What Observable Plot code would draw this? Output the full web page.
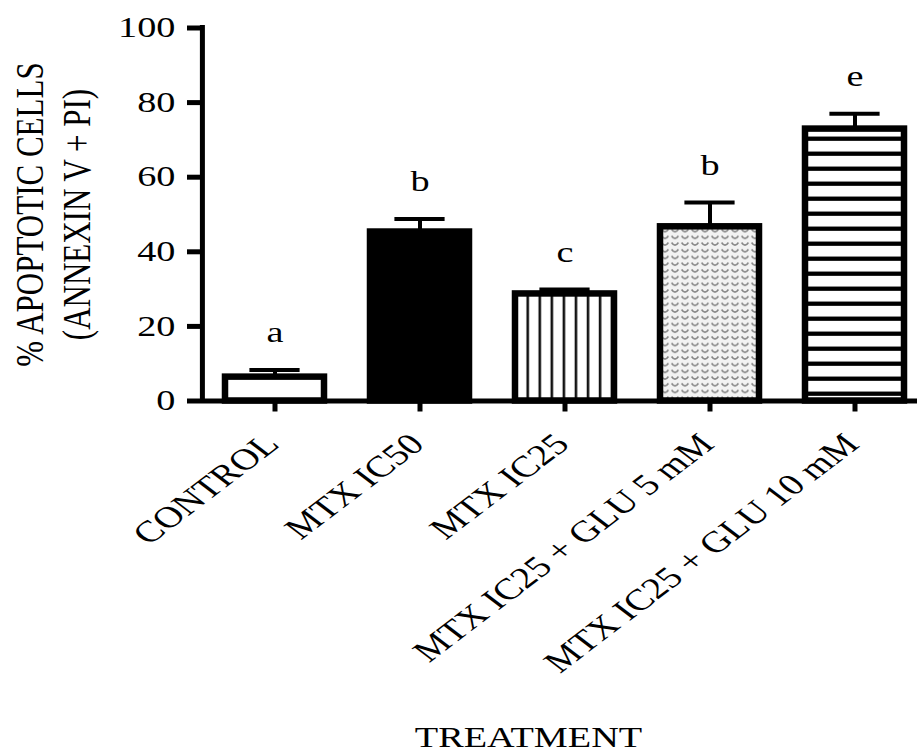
<!DOCTYPE html>
<html>
<head>
<meta charset="utf-8">
<script src="https://cdn.jsdelivr.net/npm/d3@7"></script>
<script src="https://cdn.jsdelivr.net/npm/@observablehq/plot@0.6"></script>
<style>
  html, body { margin: 0; padding: 0; background: #fff; overflow: hidden; }
  #chart svg { display: block; }
</style>
</head>
<body>
<div id="chart"></div>
<script>
// ---- data ----
const treatments = ["CONTROL", "MTX IC50", "MTX IC25", "MTX IC25 + GLU 5 mM", "MTX IC25 + GLU 10 mM"];
const meanApoptotic = [6.4, 45.3, 28.7, 46.7, 72.9];
const errorSize = [1.9, 3.5, 1.2, 6.5, 4.1];
const groupLetters = ["a", "b", "c", "b", "e"];
const yTicks = [0, 20, 40, 60, 80, 100];
const yTitleLines = ["% APOPTOTIC CELLS", "(ANNEXIN V + PI)"];
const xTitle = "TREATMENT";

// ---- styles ----
const barFills = ["white", "black", "url(#pat-vlines)", "url(#pat-dots)", "url(#pat-hlines)"];
const serif = "'Liberation Serif', 'Times New Roman', serif";
const STRETCH = 1.32;

const rows = treatments.map((t, i) => ({
  treatment: t,
  mean: meanApoptotic[i],
  top: meanApoptotic[i] + errorSize[i],
  letter: groupLetters[i]
}));

const W = 917, H = 753;
const mLeft = 201, mTop = 27.5, mBottom = 352.5;
const xRange = [mLeft, 927];
const step = (xRange[1] - xRange[0]) / treatments.length;

const plot = Plot.plot({
  width: W,
  height: H,
  marginLeft: mLeft,
  marginRight: 0,
  marginTop: mTop,
  marginBottom: mBottom,
  style: { background: "white", color: "black" },
  x: { domain: treatments, range: xRange, paddingInner: 0.32, paddingOuter: 0.16, label: null },
  y: { domain: [0, 100], label: null },
  color: { type: "ordinal", domain: treatments, range: barFills },
  marks: [
    Plot.barY(rows, { x: "treatment", y: "mean", fill: "treatment", stroke: "black", strokeWidth: 6.5 }),
    Plot.ruleX(rows, { x: "treatment", y1: "mean", y2: "top", stroke: "black", strokeWidth: 4 }),
    Plot.tickY(rows, { x: "treatment", y: "top", stroke: "black", strokeWidth: 4, inset: 24.4 }),
    Plot.text(rows, { x: "treatment", y: "top", text: "letter", dy: -37, fontSize: 29, fontFamily: serif, fill: "black" }),
    // axes
    Plot.ruleY([0], { stroke: "black", strokeWidth: 5 }),
    Plot.ruleX([treatments[0]], { x: d => d, y1: 0, y2: 100, dx: -step / 2, stroke: "black", strokeWidth: 5, strokeLinecap: "square" }),
    Plot.axisY({ ticks: yTicks, tickFormat: d => String(d), tickSize: 14, tickPadding: 12, strokeWidth: 5, fontSize: 29, fontFamily: serif, fill: "black", label: null }),
    Plot.axisX({ tickSize: 11, strokeWidth: 5, tickFormat: () => "", label: null }),
    Plot.text(rows, { x: "treatment", y: 0, text: "treatment", textAnchor: "end", lineAnchor: "middle", dx: -3, dy: 38, fontSize: 30, fontFamily: serif, fill: "black" }),
    Plot.text([yTitleLines[0]], { text: d => d, frameAnchor: "left", textAnchor: "middle", lineAnchor: "middle", dx: 29 - mLeft, fontSize: 31, fontFamily: serif, fill: "black" }),
    Plot.text([yTitleLines[1]], { text: d => d, frameAnchor: "left", textAnchor: "middle", lineAnchor: "middle", dx: 76 - mLeft, fontSize: 31, fontFamily: serif, fill: "black" }),
    Plot.text([xTitle], { text: d => d, frameAnchor: "bottom", textAnchor: "middle", lineAnchor: "middle", dx: 528 - (mLeft + W) / 2, dy: 337, fontSize: 29, fontFamily: serif, fill: "black" })
  ]
});

// pattern definitions for the hatched bars
const svgSel = d3.select(plot);
const defs = svgSel.insert("defs", ":first-child");
const pv = defs.append("pattern").attr("id", "pat-vlines").attr("patternUnits", "userSpaceOnUse")
  .attr("width", 12.05).attr("height", 10).attr("x", 0).attr("y", 0);
pv.append("rect").attr("width", 12.05).attr("height", 10).attr("fill", "white");
pv.append("rect").attr("x", 8.3).attr("y", 0).attr("width", 2.6).attr("height", 10).attr("fill", "#111");

const ph = defs.append("pattern").attr("id", "pat-hlines").attr("patternUnits", "userSpaceOnUse")
  .attr("width", 10).attr("height", 15);
ph.append("rect").attr("width", 10).attr("height", 15).attr("fill", "white");
ph.append("rect").attr("x", 0).attr("y", 1.55).attr("width", 10).attr("height", 4.3).attr("fill", "black");

const pd = defs.append("pattern").attr("id", "pat-dots").attr("patternUnits", "userSpaceOnUse")
  .attr("width", 10).attr("height", 6.7);
pd.append("rect").attr("width", 10).attr("height", 6.7).attr("fill", "#f2f2f2");
pd.append("path").attr("d", "M1.6,1.4 Q5,6.4 8.4,1.4").attr("fill", "none").attr("stroke", "#858585").attr("stroke-width", 1.7);

// horizontally widened serif lettering, as in the reference (picked by text content)
const tickStrings = yTicks.map(String);
plot.querySelectorAll("text").forEach(t => {
  const s = t.textContent;
  let extra = null;
  if (treatments.includes(s)) extra = `scale(${STRETCH},1) rotate(-45)`;
  else if (yTitleLines.includes(s)) extra = `scale(${STRETCH},1) rotate(-90)`;
  else if (s === xTitle || groupLetters.includes(s) || tickStrings.includes(s)) extra = `scale(${STRETCH},1)`;
  if (!extra) return;
  let tr = t.getAttribute("transform");
  if (!tr) {
    const x = t.getAttribute("x") || 0, y = t.getAttribute("y") || 0;
    t.removeAttribute("x"); t.removeAttribute("y");
    tr = `translate(${x},${y})`;
  }
  t.setAttribute("transform", tr + " " + extra);
});

document.getElementById("chart").appendChild(plot);
</script>
</body>
</html>
